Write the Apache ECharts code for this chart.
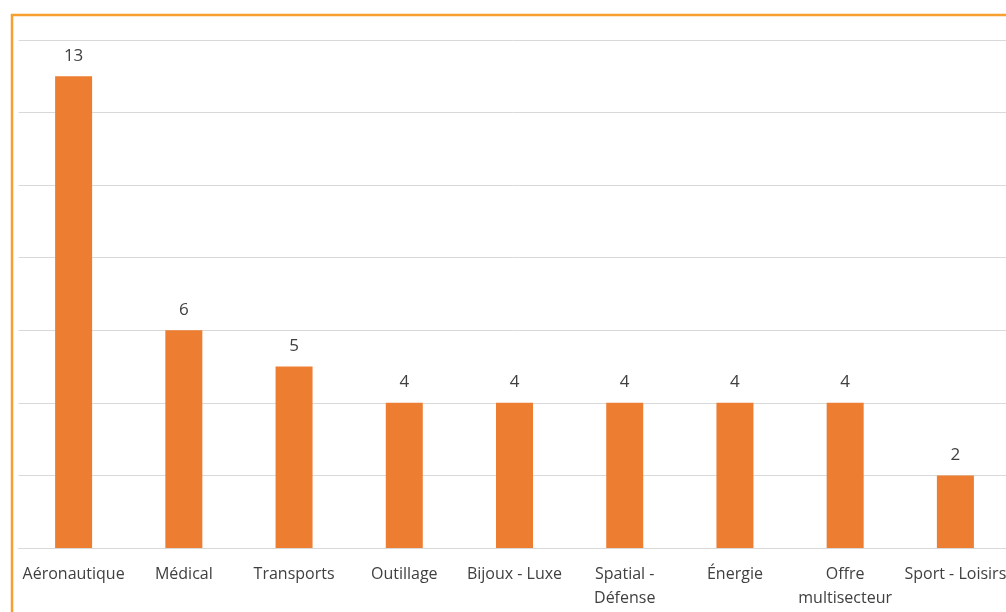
<!DOCTYPE html>
<html><head><meta charset="utf-8">
<script src="https://cdn.jsdelivr.net/npm/echarts@6/dist/echarts.min.js"></script>
<style>html,body{margin:0;padding:0;background:#fff;overflow:hidden}#c{width:1006px;height:612px}</style>
</head><body><div id="c"></div>
<script>
const categories = ["Aéronautique","Médical","Transports","Outillage","Bijoux - Luxe","Spatial - Défense","Énergie","Offre multisecteur","Sport - Loisirs"];
const tickLabels = ["Aéronautique","Médical","Transports","Outillage","Bijoux - Luxe","Spatial -\nDéfense","Énergie","Offre\nmultisecteur","Sport - Loisirs"];
const values = [13,6,5,4,4,4,4,4,2];

const chart = echarts.init(document.getElementById('c'));
chart.setOption({
  animation:false,
  backgroundColor:'#fff',
  graphic:[{type:'rect',shape:{x:12,y:15,width:1010,height:620},style:{fill:'none',stroke:'#F7A030',lineWidth:2.5},z:10}],
  grid:{left:18.5,top:40,width:992,height:508,outerBoundsMode:'none',containLabel:false},
  xAxis:{type:'category',data:categories,
    axisLine:{lineStyle:{color:'#d9d9d9'}},axisTick:{show:false},
    axisLabel:{interval:0,margin:14,fontFamily:'Open Sans',fontSize:16,color:'#404040',lineHeight:24,
      formatter:(v,i)=>tickLabels[i]}},
  yAxis:{type:'value',min:0,max:14,interval:2,axisLabel:{show:false},axisLine:{show:false},axisTick:{show:false},
    splitLine:{lineStyle:{color:'#d9d9d9',width:1}}},
  series:[{type:'bar',data:values,barWidth:37,itemStyle:{color:'#ED7D31'},
    label:{show:true,position:'top',distance:12,fontFamily:'Open Sans',fontSize:17,color:'#404040'}}]
});
</script></body></html>
